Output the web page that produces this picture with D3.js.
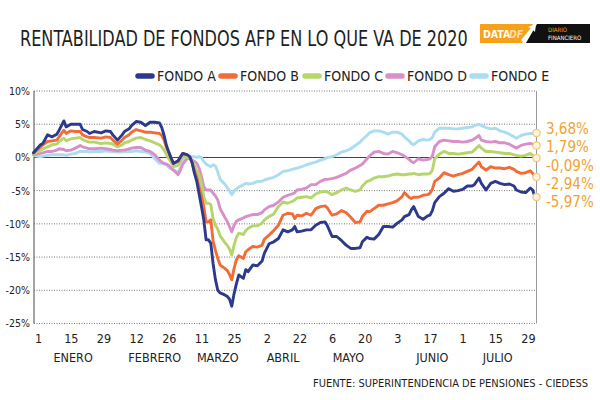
<!DOCTYPE html>
<html><head><meta charset="utf-8">
<script src="https://cdn.jsdelivr.net/npm/d3@7/dist/d3.min.js"></script>
<style>
body{margin:0;background:#fff}
svg{display:block}
text{font-family:"Liberation Sans Narrow","DejaVu Sans Condensed","Arial Narrow",sans-serif}
</style>
</head><body>
<svg id="chart" width="600" height="400"></svg>
<script>
// ---------- DATA (percent return, day offset from 1 Jan 2020) ----------
const days = [
 -2,1,2,4,6,8,9,11,12,14,
 16,18,19,21,22,24,27,29,31,32,
 34,36,37,39,40,42,44,46,48,50,
 52,53,54,55,56,57,58,60,61,62,
 64,65,66,67,68,69,70,71,72,73,
 74,75,76,77,78,80,81,82,83,84,
 85,86,88,89,90,92,94,96,97,99,
 101,103,105,107,109,110,111,113,115,117,
 119,121,123,124,126,128,130,132,134,136,
 138,139,141,142,144,146,148,150,152,154,
 156,157,159,160,161,163,165,167,168,169,
 170,172,174,176,178,180,182,184,186,187,
 189,190,192,194,196,198,200,202,204,205,
 207,209,211,212,213];
const fondoA = [
 0.7,1.9,2.1,3.4,3.1,3.5,4.1,5.5,4.6,5.0,
 5.0,5.0,4.2,3.9,3.6,3.9,3.7,4.0,3.9,3.4,
 2.6,3.4,3.9,4.3,4.8,5.4,5.3,4.8,5.3,5.3,
 5.2,4.5,3.3,1.8,0.8,-0.1,-0.9,-0.5,0.1,0.6,
 0.4,0.1,-0.8,-2.4,-3.6,-5.5,-7.4,-9.4,-12.4,-12.4,
 -12.9,-16.0,-18.4,-20.0,-20.4,-20.7,-20.9,-21.3,-22.4,-20.5,
 -19.0,-17.7,-18.2,-16.9,-17.2,-16.2,-16.3,-15.6,-14.4,-13.0,
 -12.7,-12.2,-10.9,-11.2,-10.9,-10.4,-11.2,-11.1,-10.9,-10.9,
 -10.2,-9.8,-9.7,-10.3,-11.9,-11.9,-12.5,-13.2,-13.7,-13.7,
 -13.6,-12.7,-12.0,-12.2,-12.3,-11.6,-10.4,-10.4,-10.5,-9.9,
 -9.4,-8.9,-8.6,-7.9,-7.4,-8.9,-9.3,-8.8,-8.7,-8.0,
 -6.8,-5.9,-5.4,-4.7,-5.1,-5.0,-4.8,-4.3,-4.3,-4.1,
 -3.1,-3.9,-4.9,-3.9,-3.6,-3.9,-4.1,-4.0,-4.3,-4.9,
 -5.2,-5.3,-4.6,-4.9,-5.97];
const fondoB = [
 0.7,1.6,1.9,2.4,2.5,2.6,3.1,4.1,3.6,4.0,
 3.9,3.9,3.4,3.1,3.0,3.0,2.9,3.1,3.0,2.6,
 2.0,2.6,3.0,3.4,3.8,4.2,4.0,3.8,3.8,3.7,
 3.6,3.3,2.6,1.5,0.7,-0.1,-0.9,-0.6,0.0,0.6,
 0.4,0.1,-0.8,-2.0,-2.9,-4.4,-5.9,-7.4,-9.7,-9.7,
 -9.4,-12.6,-14.0,-15.2,-16.2,-16.7,-17.0,-17.6,-18.4,-16.7,
 -15.4,-14.8,-15.2,-14.2,-13.9,-13.4,-13.5,-13.2,-12.3,-11.7,
 -11.0,-10.2,-8.7,-8.4,-8.5,-9.2,-8.7,-8.8,-8.4,-8.7,
 -7.7,-7.4,-7.3,-7.6,-8.7,-8.5,-8.0,-8.3,-9.0,-9.8,
 -9.7,-8.9,-8.1,-8.2,-7.7,-7.2,-7.2,-7.0,-6.8,-6.5,
 -5.9,-5.3,-6.0,-6.2,-6.0,-6.0,-5.7,-5.6,-5.4,-4.8,
 -3.6,-3.1,-2.3,-2.6,-2.8,-2.6,-2.4,-2.1,-1.8,-1.4,
 -0.7,-1.4,-1.9,-1.4,-1.6,-1.6,-1.7,-1.5,-1.8,-2.1,
 -2.4,-2.3,-2.0,-2.4,-2.94];
const fondoC = [
 0.5,1.1,1.3,1.6,1.9,2.0,2.4,2.9,2.5,2.8,
 2.9,3.0,2.7,2.4,2.3,2.3,2.1,2.2,2.1,2.0,
 1.6,1.9,2.2,2.4,2.6,2.9,3.0,2.7,2.5,2.2,
 1.9,1.6,1.1,0.4,-0.2,-0.7,-1.4,-1.2,-0.5,0.2,
 0.0,-0.1,-0.6,-1.2,-2.0,-2.6,-3.9,-5.9,-6.9,-6.9,
 -7.1,-9.2,-10.2,-10.8,-11.8,-12.8,-13.2,-13.8,-14.7,-13.2,
 -12.0,-11.4,-11.6,-11.0,-10.7,-10.3,-10.3,-9.9,-9.4,-8.9,
 -8.5,-7.4,-6.7,-6.9,-6.6,-6.4,-6.1,-6.0,-5.9,-6.1,
 -5.5,-5.2,-5.1,-5.2,-5.6,-5.3,-4.9,-4.6,-4.9,-5.1,
 -4.9,-4.3,-3.6,-3.5,-3.1,-2.9,-2.9,-2.8,-2.6,-2.5,
 -2.6,-2.6,-2.5,-2.5,-2.4,-2.6,-2.5,-2.5,-2.4,-1.9,
 -0.2,0.5,0.9,0.6,0.6,0.5,0.6,0.7,0.8,1.1,
 1.8,1.4,0.9,0.9,0.8,0.7,0.6,0.6,0.4,0.3,
 0.2,0.3,0.6,0.3,-0.09];
const fondoD = [
 0.4,0.6,0.7,0.9,0.9,1.1,1.3,1.2,1.0,1.1,
 1.4,1.8,1.6,1.4,1.3,1.3,1.4,1.3,1.2,1.1,
 1.0,1.1,1.1,1.3,1.4,1.5,1.5,1.1,0.9,0.4,
 -0.4,-0.7,-0.9,-1.0,-1.2,-1.6,-1.9,-2.6,-1.9,-1.0,
 -0.1,-0.2,-0.4,-0.6,-0.9,-1.6,-2.9,-4.4,-4.9,-4.9,
 -4.9,-5.4,-5.8,-6.4,-7.7,-9.0,-9.6,-10.4,-11.2,-10.2,
 -9.6,-9.4,-9.1,-8.9,-8.8,-8.6,-8.6,-8.3,-7.9,-7.4,
 -7.2,-6.7,-6.0,-5.7,-5.5,-5.3,-4.9,-4.8,-4.6,-4.1,
 -4.1,-3.6,-3.3,-3.3,-3.2,-3.0,-2.7,-2.4,-1.9,-1.6,
 -1.2,-1.0,-0.2,0.2,0.8,0.9,0.6,0.5,0.9,0.7,
 0.4,0.2,-0.3,-0.6,-0.8,-0.2,-0.4,-0.3,-0.2,0.2,
 1.6,2.4,2.6,2.5,2.4,2.4,2.3,2.4,2.6,2.8,
 3.3,2.6,2.4,2.3,2.4,2.2,2.2,2.0,1.6,1.4,
 1.8,2.0,2.1,2.0,1.79];
const fondoE = [
 0.3,0.1,0.2,0.3,0.4,0.4,0.4,0.4,0.3,0.5,
 0.6,0.9,0.9,0.9,0.8,0.9,0.9,1.0,0.9,0.9,
 0.8,0.8,0.9,0.9,0.9,1.0,0.9,0.8,0.6,-0.2,
 -0.9,-0.9,-1.0,-1.1,-1.5,-1.7,-1.9,-2.2,-1.6,-0.4,
 0.1,0.1,0.1,0.1,0.0,0.1,0.0,-0.6,-1.0,-1.2,
 -1.4,-1.1,-1.3,-2.2,-3.3,-4.0,-4.5,-5.0,-5.6,-5.1,
 -4.7,-4.5,-4.1,-3.9,-4.0,-3.9,-3.6,-3.6,-3.4,-3.2,
 -3.0,-2.6,-2.1,-2.0,-1.8,-1.7,-1.6,-1.4,-1.1,-0.9,
 -0.7,-0.4,-0.2,0.0,0.1,0.4,0.8,1.0,1.3,1.8,
 2.3,2.7,3.3,3.7,4.0,4.0,3.8,3.5,3.8,3.8,
 3.5,3.1,2.5,2.1,1.9,2.5,2.7,2.6,2.7,3.0,
 3.8,4.4,4.4,4.4,4.3,4.3,4.4,4.5,4.6,4.8,
 5.0,4.8,4.5,4.3,4.4,4.0,3.8,3.5,3.1,2.9,
 3.3,3.5,3.6,3.6,3.68];
const seriesNames = ["FONDO A","FONDO B","FONDO C","FONDO D","FONDO E"];
const seriesColors = ["#2d3a8c","#f26c37","#b6d56c","#d990c9","#abdcf0"];
const finalLabels = ["-5,97%","-2,94%","-0,09%","1,79%","3,68%"];
const xTickDays = [0,14,28,42,56,70,84,98,112,126,140,154,168,182,196,210];
const xTickLabels = ["1","15","29","12","26","11","25","2","22","6","20","3","17","1","15","29"];
const monthLabels = ["ENERO","FEBRERO","MARZO","ABRIL","MAYO","JUNIO","JULIO"];
const monthDays = [15,50,77,105,133,169,197];
const yTicks = [10,5,0,-5,-10,-15,-20,-25];
const titleText = "RENTABILIDAD DE FONDOS AFP EN LO QUE VA DE 2020";
const sourceText = "FUENTE: SUPERINTENDENCIA DE PENSIONES - CIEDESS";

// ---------- BUILD ----------
const series = [fondoA,fondoB,fondoC,fondoD,fondoE].map((vals,i)=>({
  name: seriesNames[i], color: seriesColors[i], label: finalLabels[i],
  values: vals.map((v,j)=>({day: days[j], v}))
}));

const svg = d3.select("#chart");
svg.append("rect").attr("width",600).attr("height",400).attr("fill","#fff");

const x = d3.scaleLinear().domain([-2,213]).range([33.5,535]);
const y = d3.scaleLinear().domain([-25,10]).range([323.5,91]);
const left = 34, right = 536.5;

// title (condensed horizontally to match the reference width)
const titleG = svg.append("g");
const title = titleG.append("text").attr("font-size",22).attr("fill","#1e1e1e").text(titleText);
const tw = title.node().getComputedTextLength();
const sx = Math.min(1, 448 / tw);
titleG.attr("transform",`translate(20,46) scale(${sx},1)`);

// logo
const logo = svg.append("g");
logo.append("polygon").attr("points","480,24 533,24 522,43 480,43").attr("fill","#f6a11c");
logo.append("polygon").attr("points","537,24 590,24 590,43 526,43").attr("fill","#111");
logo.append("polygon").attr("points","521,40 531,28 528,27 536,24 535,32 533,30 523,42").attr("fill","#fff");
logo.append("text").attr("x",483).attr("y",38).attr("font-size",10.5).attr("font-weight","bold").attr("fill","#fff").text("DATA");
logo.append("text").attr("x",509).attr("y",38).attr("font-size",10.5).attr("font-weight","bold").attr("font-style","italic").attr("fill","#ffdca6").text("DF");
logo.append("text").attr("x",548).attr("y",31.5).attr("font-size",6).attr("fill","#f6a11c").text("DIARIO");
logo.append("text").attr("x",548).attr("y",40).attr("font-size",6).attr("fill","#fff").text("FINANCIERO");

// legend
const legend = svg.append("g");
const legX = [136,219,303,386,470];
series.forEach((s,i)=>{
  const g = legend.append("g").attr("transform",`translate(${legX[i]},76)`);
  g.append("line").attr("x1",2).attr("x2",16).attr("y1",0).attr("y2",0)
    .attr("stroke",s.color).attr("stroke-width",5.5).attr("stroke-linecap","round");
  g.append("text").attr("x",21).attr("y",5).attr("font-size",14).attr("fill","#222").text(s.name);
});

// grid
yTicks.forEach(t=>{
  svg.append("line").attr("x1",left).attr("x2",right).attr("y1",y(t)).attr("y2",y(t))
    .attr("stroke", t===0 ? "#444" : "#777")
    .attr("stroke-width", t===0 ? 1.1 : 1)
    .attr("stroke-dasharray", t===0 ? null : "1,1.5");
});
// frame lines
svg.append("line").attr("x1",left).attr("x2",left).attr("y1",y(10)).attr("y2",y(-25)).attr("stroke","#666").attr("stroke-width",1.2);
svg.append("line").attr("x1",right).attr("x2",right).attr("y1",y(10)).attr("y2",y(-25)).attr("stroke","#999").attr("stroke-width",1);

// y axis labels
const yAxis = svg.append("g").attr("transform",`translate(${left},0)`)
  .call(d3.axisLeft(y).tickValues(yTicks).tickFormat(d=>d+"%").tickSize(0).tickPadding(4));
yAxis.select(".domain").remove();
yAxis.selectAll("text").attr("font-size",10.5).attr("fill","#222")
  .style("font-family",'"Liberation Sans Narrow","DejaVu Sans Condensed",sans-serif');

// x axis labels
const xAxis = svg.append("g").attr("transform","translate(0,331)")
  .call(d3.axisBottom(x).tickValues(xTickDays).tickFormat((d,i)=>xTickLabels[i]).tickSize(0).tickPadding(3));
xAxis.select(".domain").remove();
xAxis.selectAll("text").attr("font-size",12.5).attr("fill","#222")
  .style("font-family",'"Liberation Sans Narrow","DejaVu Sans Condensed",sans-serif');
svg.append("g").selectAll("text").data(monthLabels).join("text")
  .attr("x",(d,i)=>x(monthDays[i])).attr("y",362).attr("text-anchor","middle")
  .attr("font-size",12.5).attr("fill","#222").text(d=>d);

// lines
const line = d3.line().x(d=>x(d.day)).y(d=>y(d.v)).curve(d3.curveLinear);
svg.append("g").selectAll("path").data(series.slice().reverse()).join("path")
  .attr("d",d=>line(d.values)).attr("fill","none")
  .attr("stroke",d=>d.color).attr("stroke-width",2.9)
  .attr("stroke-linejoin","round").attr("stroke-linecap","round");

// end markers and labels
const ends = series.map(s=>({s, last: s.values[s.values.length-1]}));
svg.append("g").selectAll("circle").data(ends).join("circle")
  .attr("cx",d=>x(d.last.day)+1.5).attr("cy",d=>y(d.last.v)).attr("r",3.6)
  .attr("fill","#fff4df").attr("stroke","#f5c778").attr("stroke-width",1.3);
const sorted = ends.slice().sort((a,b)=>y(a.last.v)-y(b.last.v));
let pos = sorted.map(d=>y(d.last.v));
const gap = 18.2;
for(let it=0; it<200; it++){
  for(let k=1;k<pos.length;k++){
    const dlt = pos[k]-pos[k-1];
    if(dlt<gap){ const m=(gap-dlt)/2; pos[k]+=m; pos[k-1]-=m; }
  }
}
sorted.forEach((d,k)=>d.ly = pos[k]+3.5);
svg.append("g").selectAll("text").data(sorted).join("text")
  .attr("x",546).attr("y",d=>d.ly+5).attr("font-size",15).attr("fill","#f0a232")
  .text(d=>d.s.label);

// source
svg.append("text").attr("x",588).attr("y",387).attr("text-anchor","end")
  .attr("font-size",11).attr("fill","#1e1e1e")
  .text(sourceText);
</script>
</body></html>
